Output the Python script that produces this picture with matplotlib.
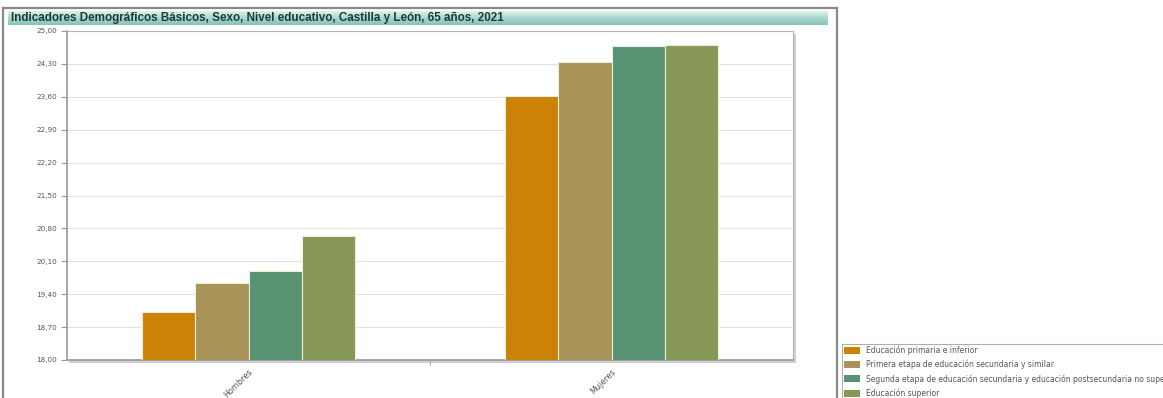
import matplotlib.pyplot as plt
import numpy as np
from matplotlib.patches import Rectangle
from matplotlib.lines import Line2D
from matplotlib.colors import LinearSegmentedColormap

title = "Indicadores Demográficos Básicos, Sexo, Nivel educativo, Castilla y León, 65 años, 2021"
sexos = ["Hombres", "Mujeres"]
niveles = ["Educación primaria e inferior",
           "Primera etapa de educación secundaria y similar",
           "Segunda etapa de educación secundaria y educación postsecundaria no superior",
           "Educación superior"]
hombres = [19.02, 19.63, 19.90, 20.64]
mujeres = [23.61, 24.34, 24.68, 24.70]
colores = ["#cc8205", "#a89459", "#579373", "#879757"]
yticks = [18.0, 18.7, 19.4, 20.1, 20.8, 21.5, 22.2, 22.9, 23.6, 24.3, 25.0]

W, H = 1163, 398
fig = plt.figure(figsize=(W / 100, H / 100), dpi=100)

def fx(px):
    return px / W

def fy(py):
    return 1 - py / H

# outer frame of the widget
fig.add_artist(Line2D([fx(3), fx(3)], [fy(8), 0], color="#8a8a8a", lw=1.6))
fig.add_artist(Line2D([fx(3), fx(837)], [fy(8), fy(8)], color="#8a8a8a", lw=1.6))
fig.add_artist(Line2D([fx(837), fx(837)], [fy(8), 0], color="#8a8a8a", lw=1.6))

# title bar with gradient
tax = fig.add_axes([fx(8), fy(25), fx(828) - fx(8), fy(11) - fy(25)])
grad = np.linspace(0, 1, 50).reshape(-1, 1)
cmap = LinearSegmentedColormap.from_list("bar", ["#e2f1ee", "#a9d6cf", "#86c2b9"])
tax.imshow(grad, aspect="auto", cmap=cmap, extent=[0, 1, 0, 1])
tax.set_axis_off()
fig.text(fx(11), fy(18), title, fontsize=8.4, fontweight="bold",
         family="Liberation Sans", color="#1e3b38", va="center", ha="left")

# plot area shadow
fig.add_artist(Rectangle((fx(69), fy(363)), fx(794) - fx(67), fy(31) - fy(360),
                         facecolor="#cfcfcf", edgecolor="none", zorder=0))

ax = fig.add_axes([fx(67), fy(360), fx(793) - fx(67), fy(31) - fy(360)])
ax.set_facecolor("white")
x = np.arange(len(sexos))
w = 0.147
datos = np.array([hombres, mujeres])
for i, nivel in enumerate(niveles):
    ax.bar(x + (i - 1.5) * w, datos[:, i], width=w, color=colores[i],
           edgecolor="#e8eed8", linewidth=0.8, label=nivel, zorder=3)

ax.set_xlim(-0.5, 1.5)
ax.set_ylim(18, 25)
ax.set_yticks(yticks)
ax.set_yticklabels([f"{v:.2f}".replace(".", ",") for v in yticks],
                   fontsize=5.2, color="#555555")
ax.yaxis.grid(True, color="#e2e2e2", lw=0.8, zorder=0)
ax.tick_params(axis="y", length=4, color="#999999", pad=3)

ax.set_xticks(x)
ax.set_xticklabels(sexos, rotation=45, ha="right", va="top",
                   rotation_mode="anchor", fontsize=5.8, color="#555555")
ax.tick_params(axis="x", length=0, pad=5)
ax.set_xticks([0.5], minor=True)
ax.tick_params(axis="x", which="minor", length=4, color="#aaaaaa")

for s in ["left", "bottom"]:
    ax.spines[s].set_color("#999999")
    ax.spines[s].set_linewidth(1.2)
for s in ["top", "right"]:
    ax.spines[s].set_color("#b5b5b5")
    ax.spines[s].set_linewidth(0.8)

leg = fig.legend(loc="upper left", bbox_to_anchor=(fx(842), fy(344)),
                 fontsize=5.5, frameon=True, fancybox=False,
                 edgecolor="#9a9a9a", borderpad=0.2, labelspacing=0.62,
                 handlelength=2.2, handleheight=1.05, handletextpad=0.75,
                 borderaxespad=0)
leg.get_frame().set_linewidth(0.8)
for t in leg.get_texts():
    t.set_color("#555555")
for h in leg.legend_handles:
    h.set_edgecolor("none")

fig.savefig("out.png", dpi=100)
